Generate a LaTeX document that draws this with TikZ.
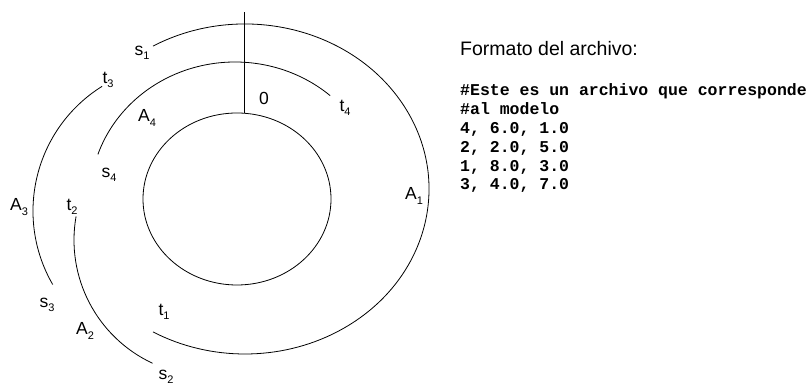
\documentclass[tikz,border=0pt]{standalone}
\usepackage{fontspec}
\setmainfont{Liberation Sans}
\setmonofont{Liberation Mono}
\usepackage{tikz}
\newcommand{\idx}[2]{#1\raisebox{-4.5pt}{\fontsize{11}{11}\selectfont #2}}

\begin{document}
\begin{tikzpicture}[
        x=1pt, y=1pt,
        curve/.style={draw=black, line width=0.8pt},
        lbl/.style={inner sep=0pt, font=\fontsize{17.5}{20}\selectfont},
        code/.style={anchor=base west, inner sep=0pt, font=\ttfamily\bfseries\fontsize{16.5}{19}\selectfont}
    ]
        \useasboundingbox (0,0) rectangle (811,387);

        % Inner circle and origin mark
        \draw[curve] (237,188) ellipse [x radius=94, y radius=86];
        \coordinate (zero) at (244,274);
        \draw[curve] (zero) -- ++(0,101);
        \node[lbl] (origin) at (264,289) {0};

        % Arcs
        \draw[curve] (245,198) ++(120:184 and 165) arc[start angle=120, end angle=-120, x radius=184, y radius=165]; % A1
        \draw[curve] (210,147) ++(170:136) arc[start angle=170, end angle=245, radius=136]; % A2
        \draw[curve] (180,176) ++(122:147) arc[start angle=122, end angle=210, radius=147]; % A3
        \draw[curve] (235,188) ++(161:145 and 137) arc[start angle=161, end angle=49, x radius=145, y radius=137]; % A4

        % Labels
        \node[lbl] (s1) at (142,334) {\idx{s}{1}};
        \node[lbl] (t1) at (164,75) {\idx{t}{1}};
        \node[lbl] (a1) at (414,191) {\idx{A}{1}};
        \node[lbl] (s2) at (166,10) {\idx{s}{2}};
        \node[lbl] (t2) at (72,180) {\idx{t}{2}};
        \node[lbl] (a2) at (85,56) {\idx{A}{2}};
        \node[lbl] (s3) at (47,82) {\idx{s}{3}};
        \node[lbl] (t3) at (108,307) {\idx{t}{3}};
        \node[lbl] (a3) at (19,180) {\idx{A}{3}};
        \node[lbl] (s4) at (109,212) {\idx{s}{4}};
        \node[lbl] (t4) at (345,279) {\idx{t}{4}};
        \node[lbl] (a4) at (147,269) {\idx{A}{4}};

        % File format
        \node[anchor=base west, inner sep=0pt, font=\fontsize{19.5}{22}\selectfont] (title) at (460,331) {Formato del archivo:};
        \foreach \ln [count=\i] in {{\#Este es un archivo que corresponde}, {\#al modelo}, {4, 6.0, 1.0}, {2, 2.0, 5.0}, {1, 8.0, 3.0}, {3, 4.0, 7.0}}
            \node[code] (line\i) at (460, 291-18.8*\i+18.8) {\ln};

    \end{tikzpicture}
\end{document}
